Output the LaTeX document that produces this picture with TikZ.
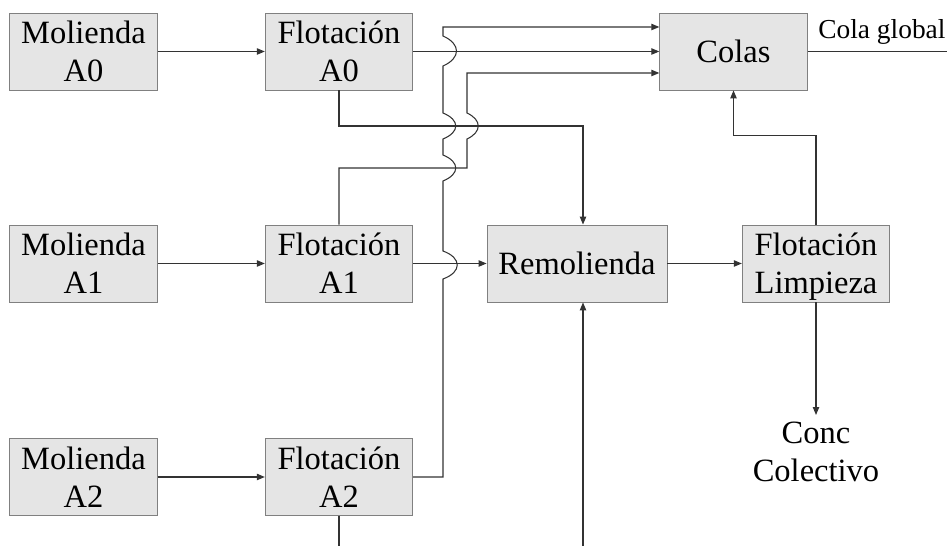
\documentclass[tikz,border=0pt]{standalone}
\usepackage{fontspec}
\setmainfont{Liberation Serif}
\usetikzlibrary{arrows.meta}

\begin{document}
\begin{tikzpicture}[x=0.02cm, y=-0.02cm,
		caja/.style={draw=black!50, fill=black!10, line width=0.5pt, inner sep=0pt, align=center, text depth=0pt,
			minimum width=2.95cm, minimum height=1.54cm, font=\fontsize{18.5}{21.6}\selectfont},
		linea/.style={draw=black!80, line width=0.6pt},
		flecha/.style={linea, -{Triangle[length=4.5pt, width=3.6pt]}}]

		\useasboundingbox (0,0) rectangle (947,546);

		\node[caja] (molA0) at (83.5,51.5) {Molienda\\A0};
		\node[caja] (floA0) at (339,51.5) {Flotación\\A0};
		\node[caja] (colas) at (733.5,51.5) {Colas};
		\node[caja] (molA1) at (83.5,263.5) {Molienda\\A1};
		\node[caja] (floA1) at (339,263.5) {Flotación\\A1};
		\node[caja, minimum width=3.6cm] (remol) at (577,263.5) {Remolienda};
		\node[caja] (floLimp) at (816,263.5) {Flotación\\Limpieza};
		\node[caja] (molA2) at (83.5,477) {Molienda\\A2};
		\node[caja] (floA2) at (339,477) {Flotación\\A2};

		\node[anchor=base west, inner sep=0pt, font=\fontsize{15.6}{18}\selectfont] (global) at (818,39) {Cola global};
		\node[anchor=north, inner sep=4pt, align=center, font=\fontsize{18.5}{21.6}\selectfont] (conc) at (816,415) {Conc\\Colectivo};
		\coordinate (salida) at (947,51.5);
		\coordinate (fondoA2) at (339,546);
		\coordinate (fondoRem) at (583,546);

		\draw[flecha] (molA0) -- (floA0);
		\draw[flecha] (molA1) -- (floA1);
		\draw[flecha] (molA2) -- (floA2);
		\draw[flecha] (floA0) -- (colas);
		\draw[flecha] (floA1) -- (remol);
		\draw[flecha] (remol) -- (floLimp);
		\draw[linea] (colas.east) -- (salida);
		\draw[flecha] (floLimp.north) -- ++(0,-89) -| (colas.south);
		\draw[flecha] (floLimp.south) -- (conc.north);
		\draw[flecha] (floA0.south) |- (583,126) -- (583,126 |- remol.north);
		\draw[flecha] (fondoRem) -- (fondoRem |- remol.south);
		\draw[linea] (floA2.south) -- (fondoA2);

		\draw[flecha] (floA1.north) |- (467,168) -- (467,139)
			.. controls (482,132) and (482,120) .. (467,113) -- (467,73) -- (colas.west |- 0,73);
		\draw[flecha] (floA2.east) -- (443,477) -- (443,279)
			.. controls (462,272) and (462,258) .. (443,251) -- (443,181)
			.. controls (460,174) and (460,162) .. (443,155) -- (443,139)
			.. controls (460,132) and (460,120) .. (443,113) -- (443,66)
			.. controls (461,58) and (461,44) .. (443,36) -- (443,27) -- (colas.west |- 0,27);

	\end{tikzpicture}
\end{document}
